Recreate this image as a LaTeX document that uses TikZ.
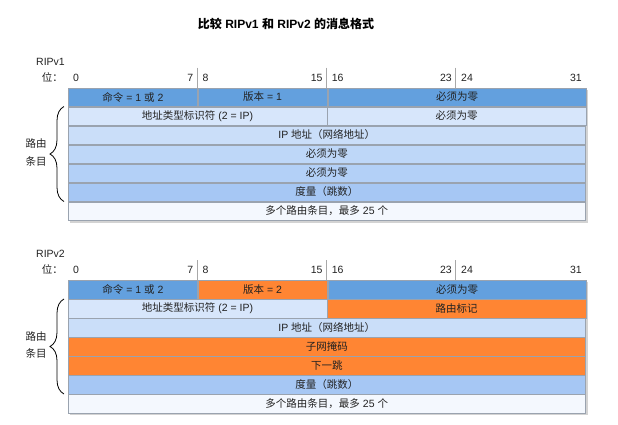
\documentclass[tikz,border=0pt]{standalone}
\usepackage{fontspec}
\setmainfont{Liberation Sans}
\newfontfamily\cjk{Noto Sans CJK SC}
\usetikzlibrary{positioning,shadows,backgrounds,decorations.pathreplacing}

\definecolor{hdrblue}{HTML}{63A0DE}
\definecolor{rowa}{HTML}{D7E6FB}
\definecolor{rowb}{HTML}{CADEF9}
\definecolor{rowc}{HTML}{BED7F8}
\definecolor{rowd}{HTML}{B3D0F7}
\definecolor{rowe}{HTML}{A6C7F4}
\definecolor{rowlast}{HTML}{F4F8FE}
\definecolor{ripor}{HTML}{FF8533}
\definecolor{sepgray}{HTML}{9AA3AF}
\definecolor{tickgray}{HTML}{A8A8A8}
\definecolor{txtgray}{HTML}{222222}

\tikzset{
  field/.style={draw=sepgray, line width=0.5pt, minimum height=18.5pt, inner sep=0pt,
                anchor=north west, text=txtgray},
  w8/.style={minimum width=129.25pt},
  w16/.style={minimum width=258.5pt},
  w32/.style={minimum width=517pt},
  bitnum/.style={inner sep=0pt, text=txtgray},
  bittick/.style={draw=tickgray, line width=1pt},
  tablebox/.style={fill=white, drop shadow={shadow xshift=2pt, shadow yshift=-2pt, opacity=0.35}},
  routebrace/.style={draw=black, line width=0.8pt, decorate, decoration={brace, amplitude=14pt}},
}

\begin{document}
\begin{tikzpicture}[x=1pt, y=-1pt, font=\fontsize{10.5}{12.6}\selectfont]
    \useasboundingbox (0,0) rectangle (618,424);

    % Title
    \node[font=\fontsize{12}{15}\selectfont\bfseries] (title) at (286,24) {{\cjk 比较} RIPv1 {\cjk 和} RIPv2 {\cjk 的消息格式}};

    % ==========================================
    % RIPv1
    % ==========================================
    \begin{scope}[shift={(68,87.5)}, name prefix=v1-]
        % Name and bit ruler
        \node[bitnum, anchor=base west] (name) at (-32,-22.5) {RIPv1};
        \node[bitnum, anchor=base west] (b0) at (5,-6.5) {0};
        \node[bitnum, base left=10pt of b0] (pos) {\cjk 位：};
        \node[bitnum, anchor=base east] (b7) at (125.5,-6.5) {7};
        \node[bitnum, anchor=base west] (b8) at (134.5,-6.5) {8};
        \node[bitnum, anchor=base east] (b15) at (254.7,-6.5) {15};
        \node[bitnum, anchor=base west] (b16) at (263.7,-6.5) {16};
        \node[bitnum, anchor=base east] (b23) at (384,-6.5) {23};
        \node[bitnum, anchor=base west] (b24) at (393,-6.5) {24};
        \node[bitnum, anchor=base east] (b31) at (514,-6.5) {31};

        % Byte ticks
        \draw[bittick] (129.25,-20) -- (129.25,0);
        \draw[bittick] (258.5,-20) -- (258.5,0);
        \draw[bittick] (387.75,-20) -- (387.75,0);

        % Fields
        \node[field, w8, fill=hdrblue] (cmd) at (0,0) {{\cjk 命令} = 1 {\cjk 或} 2};
        \node[field, w8, fill=hdrblue, right=0pt of cmd] (ver) {{\cjk 版本} = 1};
        \node[field, w16, fill=hdrblue, right=0pt of ver] (zero) {\cjk 必须为零};
        \node[field, w16, fill=rowa] (afi) at (cmd.south west) {{\cjk 地址类型标识符} (2 = IP)};
        \node[field, w16, fill=rowa, right=0pt of afi] (zeroa) {\cjk 必须为零};
        \node[field, w32, fill=rowb] (ip) at (afi.south west) {IP {\cjk 地址（网络地址）}};
        \node[field, w32, fill=rowc] (zerob) at (ip.south west) {\cjk 必须为零};
        \node[field, w32, fill=rowd] (zeroc) at (zerob.south west) {\cjk 必须为零};
        \node[field, w32, fill=rowe] (metric) at (zeroc.south west) {\cjk 度量（跳数）};
        \node[field, w32, fill=rowlast] (more) at (metric.south west) {{\cjk 多个路由条目，最多} 25 {\cjk 个}};

        \begin{scope}[on background layer]
            \path[tablebox] (cmd.north west) rectangle (more.south east);
        \end{scope}

        % Route entry brace
        \coordinate (btop) at ([xshift=-4pt]afi.north west);
        \coordinate (bbot) at ([xshift=-4pt]metric.south west);
        \draw[routebrace] (bbot) -- (btop);
        \node[align=center, font=\fontsize{10.5}{17.5}\selectfont\cjk, text=txtgray] (entry) at (-32,65) {路由\\条目};
    \end{scope}

    % ==========================================
    % RIPv2
    % ==========================================
    \begin{scope}[shift={(68,280)}, name prefix=v2-]
        % Name and bit ruler
        \node[bitnum, anchor=base west] (name) at (-32,-23) {RIPv2};
        \node[bitnum, anchor=base west] (b0) at (5,-6.5) {0};
        \node[bitnum, base left=10pt of b0] (pos) {\cjk 位：};
        \node[bitnum, anchor=base east] (b7) at (125.5,-6.5) {7};
        \node[bitnum, anchor=base west] (b8) at (134.5,-6.5) {8};
        \node[bitnum, anchor=base east] (b15) at (254.7,-6.5) {15};
        \node[bitnum, anchor=base west] (b16) at (263.7,-6.5) {16};
        \node[bitnum, anchor=base east] (b23) at (384,-6.5) {23};
        \node[bitnum, anchor=base west] (b24) at (393,-6.5) {24};
        \node[bitnum, anchor=base east] (b31) at (514,-6.5) {31};

        % Byte ticks
        \draw[bittick] (129.25,-20) -- (129.25,0);
        \draw[bittick] (258.5,-20) -- (258.5,0);
        \draw[bittick] (387.75,-20) -- (387.75,0);

        % Fields (orange = new in v2)
        \node[field, w8, fill=hdrblue] (cmd) at (0,0) {{\cjk 命令} = 1 {\cjk 或} 2};
        \node[field, w8, fill=ripor, right=0pt of cmd] (ver) {{\cjk 版本} = 2};
        \node[field, w16, fill=hdrblue, right=0pt of ver] (zero) {\cjk 必须为零};
        \node[field, w16, fill=rowa] (afi) at (cmd.south west) {{\cjk 地址类型标识符} (2 = IP)};
        \node[field, w16, fill=ripor, right=0pt of afi] (tag) {\cjk 路由标记};
        \node[field, w32, fill=rowb] (ip) at (afi.south west) {IP {\cjk 地址（网络地址）}};
        \node[field, w32, fill=ripor] (mask) at (ip.south west) {\cjk 子网掩码};
        \node[field, w32, fill=ripor] (hop) at (mask.south west) {\cjk 下一跳};
        \node[field, w32, fill=rowe] (metric) at (hop.south west) {\cjk 度量（跳数）};
        \node[field, w32, fill=rowlast] (more) at (metric.south west) {{\cjk 多个路由条目，最多} 25 {\cjk 个}};

        \begin{scope}[on background layer]
            \path[tablebox] (cmd.north west) rectangle (more.south east);
        \end{scope}

        % Route entry brace
        \coordinate (btop) at ([xshift=-4pt]afi.north west);
        \coordinate (bbot) at ([xshift=-4pt]metric.south west);
        \draw[routebrace] (bbot) -- (btop);
        \node[align=center, font=\fontsize{10.5}{17.5}\selectfont\cjk, text=txtgray] (entry) at (-32,65) {路由\\条目};
    \end{scope}
\end{tikzpicture}
\end{document}
